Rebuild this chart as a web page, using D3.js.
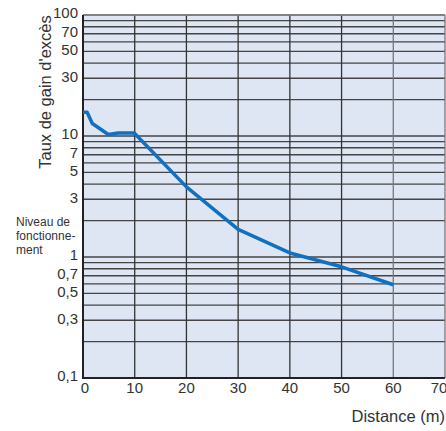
<!DOCTYPE html>
<html>
<head>
<meta charset="utf-8">
<script src="https://cdn.jsdelivr.net/npm/d3@7"></script>
<style>
  body { margin: 0; background: #fff; }
  svg { display: block; font-family: "Liberation Sans", Arial, sans-serif; }
</style>
</head>
<body>
<svg id="chart" width="446" height="431"></svg>
<script>
// data
const distance = [0, 0.8, 1.8, 4.9, 6.8, 9.9, 20, 30, 40, 50, 60];
const gain = [15.7, 15.7, 12.7, 10.3, 10.6, 10.6, 3.8, 1.69, 1.08, 0.83, 0.59];

const yTickValues = [100, 70, 50, 30, 10, 7, 5, 3, 1, 0.7, 0.5, 0.3, 0.1];
const yTickLabels = ["100", "70", "50", "30", "10", "7", "5", "3", "1", "0,7", "0,5", "0,3", "0,1"];
const xTickValues = [0, 10, 20, 30, 40, 50, 60, 70];
const gridY = [0.2, 0.3, 0.4, 0.5, 0.6, 0.7, 0.8, 0.9, 1, 2, 3, 4, 5, 6, 7, 8, 9, 10,
  20, 30, 40, 50, 60, 70, 80, 90, 100];

const svg = d3.select("#chart");
const plotLeft = 83, plotRight = 445, plotTop = 15, plotBottom = 378;

const x = d3.scaleLinear().domain([0, 70]).range([plotLeft, plotRight]);
const y = d3.scaleLog().domain([0.1, 100]).range([plotBottom, plotTop]);

// fond du graphique
svg.append("rect")
  .attr("x", plotLeft).attr("y", plotTop)
  .attr("width", plotRight - plotLeft).attr("height", plotBottom - plotTop)
  .attr("fill", "#dfe6f3");

// grille horizontale
svg.append("g")
  .selectAll("line")
  .data(gridY)
  .enter()
  .append("line")
  .attr("x1", plotLeft).attr("x2", plotRight)
  .attr("y1", d => y(d)).attr("y2", d => y(d))
  .attr("stroke", "#444")
  .attr("stroke-width", 1.3);

// grille verticale
svg.append("g")
  .selectAll("line")
  .data(xTickValues.slice(1))
  .enter()
  .append("line")
  .attr("x1", d => x(d)).attr("x2", d => x(d))
  .attr("y1", plotTop).attr("y2", plotBottom)
  .attr("stroke", d => d >= 60 ? "#777" : "#333")
  .attr("stroke-width", 1.3);

// bord du haut
svg.append("line")
  .attr("x1", plotLeft).attr("x2", plotRight)
  .attr("y1", plotTop).attr("y2", plotTop)
  .attr("stroke", "#888").attr("stroke-width", 1.5);

// axes
svg.append("line")
  .attr("x1", plotLeft).attr("x2", plotLeft)
  .attr("y1", plotTop).attr("y2", plotBottom + 1)
  .attr("stroke", "#222").attr("stroke-width", 2);
svg.append("line")
  .attr("x1", plotLeft - 1).attr("x2", plotRight)
  .attr("y1", plotBottom).attr("y2", plotBottom)
  .attr("stroke", "#222").attr("stroke-width", 2);

// étiquettes y
svg.append("g")
  .selectAll("text")
  .data(yTickValues)
  .enter()
  .append("text")
  .attr("x", 78)
  .attr("y", d => y(d) - 2)
  .attr("dy", "0.35em")
  .attr("text-anchor", "end")
  .attr("font-size", 15)
  .attr("fill", "#333")
  .text((d, i) => yTickLabels[i]);

// étiquettes x
svg.append("g")
  .selectAll("text")
  .data(xTickValues)
  .enter()
  .append("text")
  .attr("x", d => d === 70 ? x(d) - 6 : x(d) + (d === 0 ? 2 : 0))
  .attr("y", 393)
  .attr("text-anchor", "middle")
  .attr("font-size", 15)
  .attr("fill", "#333")
  .text(d => d);

// titres des axes
svg.append("text")
  .attr("transform", "translate(51, 92) rotate(-90)")
  .attr("text-anchor", "middle")
  .attr("font-size", 16.5)
  .attr("fill", "#333")
  .text("Taux de gain d'excès");

svg.append("text")
  .attr("x", 445)
  .attr("y", 422)
  .attr("text-anchor", "end")
  .attr("font-size", 16.5)
  .attr("fill", "#333")
  .text("Distance (m)");

// niveau de fonctionnement
svg.append("text")
  .attr("font-size", 12)
  .attr("fill", "#333")
  .selectAll("tspan")
  .data(["Niveau de", "fonctionne-", "ment"])
  .enter()
  .append("tspan")
  .attr("x", 16)
  .attr("y", (d, i) => 226 + i * 14)
  .text(d => d);

// courbe
const line = d3.line()
  .x((d, i) => x(distance[i]))
  .y(d => y(d));

svg.append("path")
  .datum(gain)
  .attr("d", line)
  .attr("fill", "none")
  .attr("stroke", "#1170c0")
  .attr("stroke-width", 3.5)
  .attr("stroke-linejoin", "round");
</script>
</body>
</html>
